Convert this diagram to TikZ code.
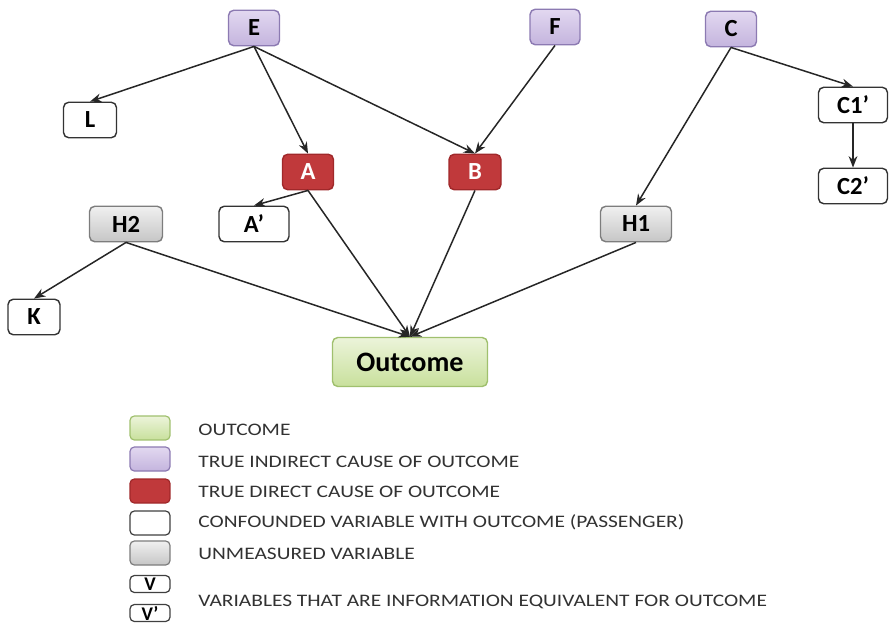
\documentclass[tikz,border=0pt]{standalone}
\usepackage{fontspec}
\setmainfont{Carlito}
\newfontfamily\legendfont[FakeStretch=1.22]{Carlito}
\usepackage{tikz}
\usetikzlibrary{shapes,arrows,arrows.meta,positioning,calc}
\definecolor{lilactop}{RGB}{226, 216, 240}
\definecolor{lilacbot}{RGB}{196, 180, 222}
\definecolor{lilacline}{RGB}{140, 122, 178}
\definecolor{redpr}{RGB}{192, 57, 59}
\definecolor{redline}{RGB}{160, 40, 42}
\definecolor{greytop}{RGB}{240, 240, 240}
\definecolor{greybot}{RGB}{198, 198, 198}
\definecolor{greyline}{RGB}{125, 125, 125}
\definecolor{greentop}{RGB}{236, 244, 218}
\definecolor{greenbot}{RGB}{200, 224, 156}
\definecolor{greenline}{RGB}{160, 192, 110}
\definecolor{legendtext}{RGB}{50, 50, 50}

\begin{document}
\begin{tikzpicture}[x=0.02cm, y=-0.02cm,
    box/.style={draw, rounded corners=3pt, line width=0.8pt, inner sep=0pt,
                minimum height=0.71cm, font=\fontsize{14}{14}\selectfont\bfseries},
    indirect/.style={box, draw=lilacline, top color=lilactop, bottom color=lilacbot},
    direct/.style={box, draw=redline, fill=redpr, text=white},
    passenger/.style={box, draw=black!80, fill=white},
    unmeasured/.style={box, draw=greyline, top color=greytop, bottom color=greybot},
    outcome/.style={box, draw=greenline, top color=greentop, bottom color=greenbot,
                    minimum width=3.1cm, minimum height=0.98cm,
                    font=\fontsize{16}{16}\selectfont\bfseries},
    link/.style={-{Stealth[length=6.5pt,width=5pt]}, line width=0.85pt, black!85},
    swatch/.style={draw, rounded corners=2.5pt, line width=0.7pt, inner sep=0pt,
                   minimum width=0.8cm, minimum height=0.48cm},
    vbox/.style={swatch, draw=black!75, fill=white, minimum height=0.34cm,
                 font=\fontsize{11}{11}\selectfont\bfseries},
    legend/.style={anchor=west, inner sep=0pt, text=legendtext,
                   font=\legendfont\fontsize{10}{10}\selectfont}]
\useasboundingbox (0,0) rectangle (889,628);

% causes at the top
\node[indirect, minimum width=1.02cm] (E) at (254,28) {E};
\node[indirect, minimum width=1.0cm] (F) at (555,27) {F};
\node[indirect, minimum width=1.02cm] (C) at (731,29) {C};

% direct causes
\node[direct, minimum width=1.02cm] (A) at (308,172) {A};
\node[direct, minimum width=1.04cm] (B) at (475,172) {B};

% passengers
\node[passenger, minimum width=1.06cm] (L) at (90,120) {L};
\node[passenger, minimum width=1.4cm] (Ap) at (254,224) {A’};
\node[passenger, minimum width=1.04cm] (K) at (34,317) {K};
\node[passenger, minimum width=1.38cm] (C1p) at (853,105) {C1’};
\node[passenger, minimum width=1.38cm] (C2p) at (853,186) {C2’};

% unmeasured
\node[unmeasured, minimum width=1.46cm] (H2) at (126,224) {H2};
\node[unmeasured, minimum width=1.42cm] (H1) at (636,224) {H1};

\node[outcome] (out) at (410,362) {Outcome};

% arrows
\draw[link] (E.south) -- (L.north);
\draw[link] (E.south) -- (A.north);
\draw[link] (E.south) -- (B.north);
\draw[link] (F.south) -- (B.north);
\draw[link] (C.south) -- (H1.north);
\draw[link] (C.south) -- (C1p.north);
\draw[link] (C1p.south) -- (C2p.north);
\draw[link] (A.south) -- (Ap.north);
\draw[link] (H2.south) -- (K.north);
\draw[link] (A.south) -- (out.north);
\draw[link] (B.south) -- (out.north);
\draw[link] (H2.south) -- (out.north);
\draw[link] (H1.south) -- (out.north);

% legend
\node[swatch, draw=greenline, top color=greentop, bottom color=greenbot] (sw1) at (150,428) {};
\node[swatch, draw=lilacline, top color=lilactop, bottom color=lilacbot] (sw2) at (150,459) {};
\node[swatch, draw=redline, fill=redpr] (sw3) at (150,491) {};
\node[swatch, draw=black!75, fill=white] (sw4) at (150,523) {};
\node[swatch, draw=greyline, top color=greytop, bottom color=greybot] (sw5) at (150,553) {};
\node[vbox] (sw6) at (150,584) {V};
\node[vbox] (sw7) at (150,613) {V’};

\node[legend] (t1) at (198,430) {OUTCOME};
\node[legend] (t2) at (198,462) {TRUE INDIRECT CAUSE OF OUTCOME};
\node[legend] (t3) at (198,492) {TRUE DIRECT CAUSE OF OUTCOME};
\node[legend] (t4) at (198,522) {CONFOUNDED VARIABLE WITH OUTCOME (PASSENGER)};
\node[legend] (t5) at (198,554) {UNMEASURED VARIABLE};
\node[legend] (t6) at (198,602) {VARIABLES THAT ARE INFORMATION EQUIVALENT FOR OUTCOME};
\end{tikzpicture}
\end{document}
